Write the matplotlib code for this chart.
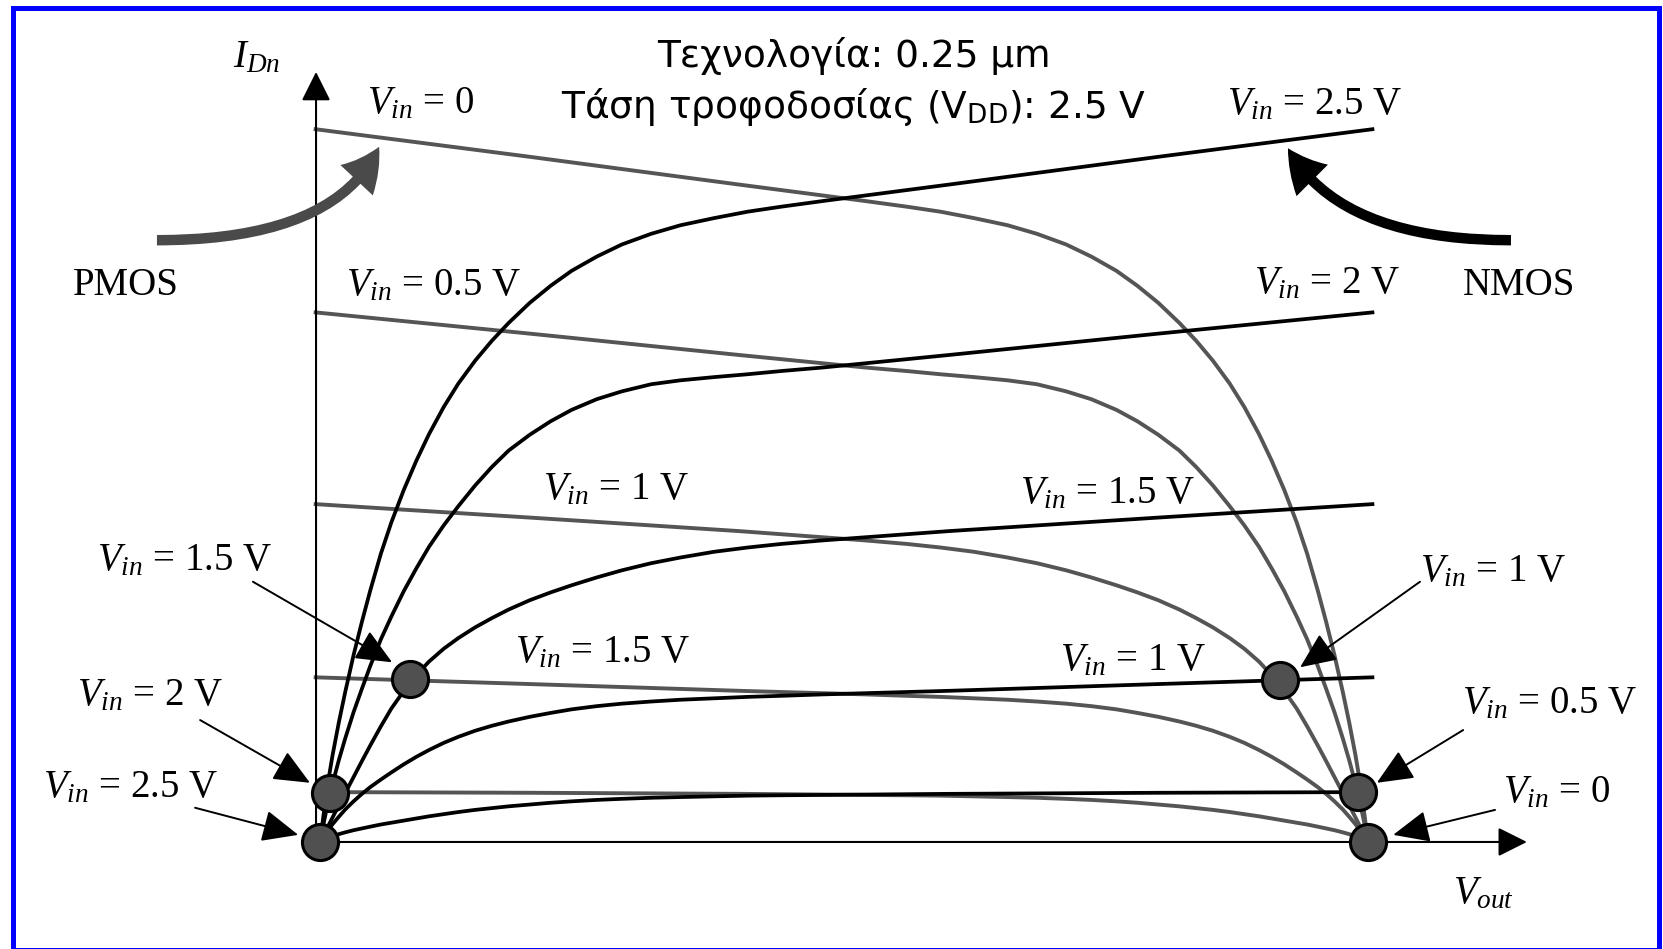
import numpy as np
import matplotlib
matplotlib.use("Agg")
import matplotlib.pyplot as plt
from matplotlib.patches import FancyArrowPatch, Rectangle
from matplotlib.path import Path

plt.rcParams['mathtext.fontset'] = 'custom'
plt.rcParams['mathtext.rm'] = 'DejaVu Sans'
plt.rcParams['mathtext.it'] = 'Liberation Serif:italic'

VDD = 2.5

# NMOS drain current (normalised) against V_out, one curve per V_in
vout = [0, 0.01, 0.02, 0.03, 0.045, 0.06, 0.08, 0.10, 0.12, 0.145, 0.17, 0.20, 0.23,
        0.26, 0.295, 0.33, 0.37, 0.41, 0.45, 0.50, 0.55, 0.60, 0.66, 0.72, 0.79,
        0.86, 0.94, 1.02, 1.10, 1.20, 1.50, 2.00, 2.515]
i_vin25 = [0, 0.045, 0.087, 0.122, 0.168, 0.210, 0.262, 0.309, 0.353, 0.404, 0.448, 0.494, 0.535,
           0.572, 0.610, 0.643, 0.675, 0.703, 0.728, 0.756, 0.780, 0.801, 0.821, 0.838, 0.853,
           0.865, 0.875, 0.884, 0.891, 0.899, 0.922, 0.961, 1.000]
i_vin20 = [0, 0.030, 0.058, 0.082, 0.115, 0.145, 0.182, 0.215, 0.247, 0.284, 0.316, 0.352, 0.384,
           0.414, 0.444, 0.471, 0.500, 0.526, 0.549, 0.571, 0.590, 0.606, 0.621, 0.632, 0.642,
           0.6475, 0.652, 0.656, 0.6605, 0.6655, 0.683, 0.713, 0.743]
i_vin15 = [0, 0.0115, 0.023, 0.0345, 0.0515, 0.0685, 0.091, 0.1135, 0.1355, 0.162, 0.187, 0.212, 0.234,
           0.253, 0.271, 0.286, 0.301, 0.314, 0.326, 0.339, 0.350, 0.360, 0.371, 0.381, 0.391,
           0.399, 0.407, 0.413, 0.418, 0.423, 0.436, 0.455, 0.474]
i_vin10 = [0, 0.0085, 0.017, 0.025, 0.0355, 0.0455, 0.057, 0.0675, 0.077, 0.0875, 0.0975, 0.109, 0.1195,
           0.129, 0.139, 0.1475, 0.156, 0.163, 0.169, 0.1755, 0.181, 0.186, 0.1905, 0.194, 0.197,
           0.1995, 0.2015, 0.2035, 0.205, 0.207, 0.212, 0.2215, 0.231]
i_vin05 = [0, 0.003, 0.0055, 0.008, 0.011, 0.0135, 0.0165, 0.019, 0.0215, 0.0245, 0.027, 0.030, 0.033,
           0.036, 0.039, 0.042, 0.045, 0.0475, 0.050, 0.0525, 0.055, 0.057, 0.059, 0.0605, 0.062,
           0.063, 0.064, 0.065, 0.0655, 0.066, 0.0675, 0.069, 0.070]
nmos = {2.5: i_vin25, 2.0: i_vin20, 1.5: i_vin15, 1.0: i_vin10, 0.5: i_vin05}

# operating points (V_in, V_out, I)
op_vin = [2.5, 2.0, 1.5, 1.0, 0.5, 0.0]
op_vout = [0.0, 0.024, 0.215, 2.29, 2.475, 2.5]
op_current = [0.0, 0.068, 0.229, 0.227, 0.070, 0.0]

NMOS_COLOR = 'black'
PMOS_COLOR = '#555555'
SERIF = 'Liberation Serif'
LBL = 28

fig = plt.figure(figsize=(16.63, 9.49), dpi=100)
ax = fig.add_axes([0, 0, 1, 1])
ax.set_xlim(-0.7634, 3.2037)
ax.set_ylim(-0.1501, 1.1809)
ax.axis('off')

vout = np.array(vout)
for vin, cur in nmos.items():
    ax.plot(vout, cur, color=NMOS_COLOR, lw=2.7, zorder=3, solid_capstyle='butt',
            solid_joinstyle='round')
    # PMOS with gate at VDD - vin is the mirror image of this NMOS curve
    ax.plot(VDD - vout, cur, color=PMOS_COLOR, lw=2.8, zorder=2, solid_capstyle='butt',
            solid_joinstyle='round')

# axes with arrow heads
axis_arrow = dict(arrowstyle='-|>,head_length=0.6,head_width=0.3', color='black',
                  lw=1.5, mutation_scale=30, shrinkA=0, shrinkB=0)
ax.annotate('', xy=(-0.0095, 1.080), xytext=(-0.0095, 0.0), arrowprops=axis_arrow, zorder=4)
ax.annotate('', xy=(2.879, 0.0), xytext=(-0.0095, 0.0), arrowprops=axis_arrow, zorder=4)

ax.plot(op_vout, op_current, 'o', ms=26, mfc='#505050', mec='black', mew=2.2, zorder=6)

# curve labels
labels = [
    (r'$V_{in}$ = 0', 0.112, 1.022),
    (r'$V_{in}$ = 0.5 V', 0.062, 0.767),
    (r'$V_{in}$ = 1 V', 0.532, 0.480),
    (r'$V_{in}$ = 1.5 V', 0.465, 0.252),
    (r'$V_{in}$ = 2.5 V', 2.164, 1.020),
    (r'$V_{in}$ = 2 V', 2.228, 0.770),
    (r'$V_{in}$ = 1.5 V', 1.670, 0.475),
    (r'$V_{in}$ = 1 V', 1.765, 0.241),
]
for txt, x, y in labels:
    ax.text(x, y, txt, family=SERIF, fontsize=LBL, ha='left', va='baseline', zorder=7)

ax.text(-0.589, 0.767, 'PMOS', family=SERIF, fontsize=LBL, va='baseline')
ax.text(2.727, 0.767, 'NMOS', family=SERIF, fontsize=LBL, va='baseline')
ax.text(-0.2075, 1.087, r'$I_{Dn}$', family=SERIF, fontsize=LBL, va='baseline')
ax.text(2.703, -0.086, r'$V_{out}$', family=SERIF, fontsize=LBL, va='baseline')

# callouts pointing at the operating points
small_arrow = dict(arrowstyle='-|>,head_length=0.75,head_width=0.33', color='black',
                   lw=1.4, mutation_scale=30, shrinkA=0, shrinkB=0)
callouts = [
    (r'$V_{in}$ = 1.5 V', (-0.532, 0.381), (-0.160, 0.365), (0.172, 0.252)),
    (r'$V_{in}$ = 2 V', (-0.579, 0.192), (-0.286, 0.171), (-0.024, 0.083)),
    (r'$V_{in}$ = 2.5 V', (-0.661, 0.062), (-0.298, 0.048), (-0.052, 0.010)),
    (r'$V_{in}$ = 1 V', (2.624, 0.365), (2.624, 0.365), (2.338, 0.245)),
    (r'$V_{in}$ = 0.5 V', (2.724, 0.181), (2.727, 0.157), (2.521, 0.083)),
    (r'$V_{in}$ = 0', (2.822, 0.055), (2.803, 0.045), (2.560, 0.010)),
]
for txt, pos, start, tip in callouts:
    ax.text(pos[0], pos[1], txt, family=SERIF, fontsize=LBL, va='baseline')
    ax.annotate('', xy=tip, xytext=start, arrowprops=small_arrow, zorder=5)

# big curved arrows marking the transistor families
big = [
    ([(-0.389, 0.844), (0.038, 0.844), (0.141, 0.975)], '#4a4a4a'),
    ([(2.841, 0.844), (2.431, 0.844), (2.309, 0.973)], 'black'),
]
for pts, col in big:
    p = Path(pts, [Path.MOVETO, Path.CURVE3, Path.CURVE3])
    arr = FancyArrowPatch(path=p, arrowstyle='simple,head_length=2.9,head_width=3.2,tail_width=0.75',
                          mutation_scale=10, color=col, lw=0, zorder=5)
    ax.add_patch(arr)

# heading
ax.text(1.274, 1.087, 'Τεχνολογία: 0.25 μm', family='DejaVu Sans', fontsize=27,
        ha='center', va='baseline')
ax.text(1.274, 1.015, r'Τάση τροφοδοσίας (V$_{\mathrm{DD}}$): 2.5 V', family='DejaVu Sans',
        fontsize=27, ha='center', va='baseline')

fig.patches.append(Rectangle((12.5 / 1663, -1 / 949), 1646.5 / 1663, 942 / 949,
                             transform=fig.transFigure, fill=False, ec='#0000ff', lw=3.6))

fig.savefig('out.png', dpi=100)
